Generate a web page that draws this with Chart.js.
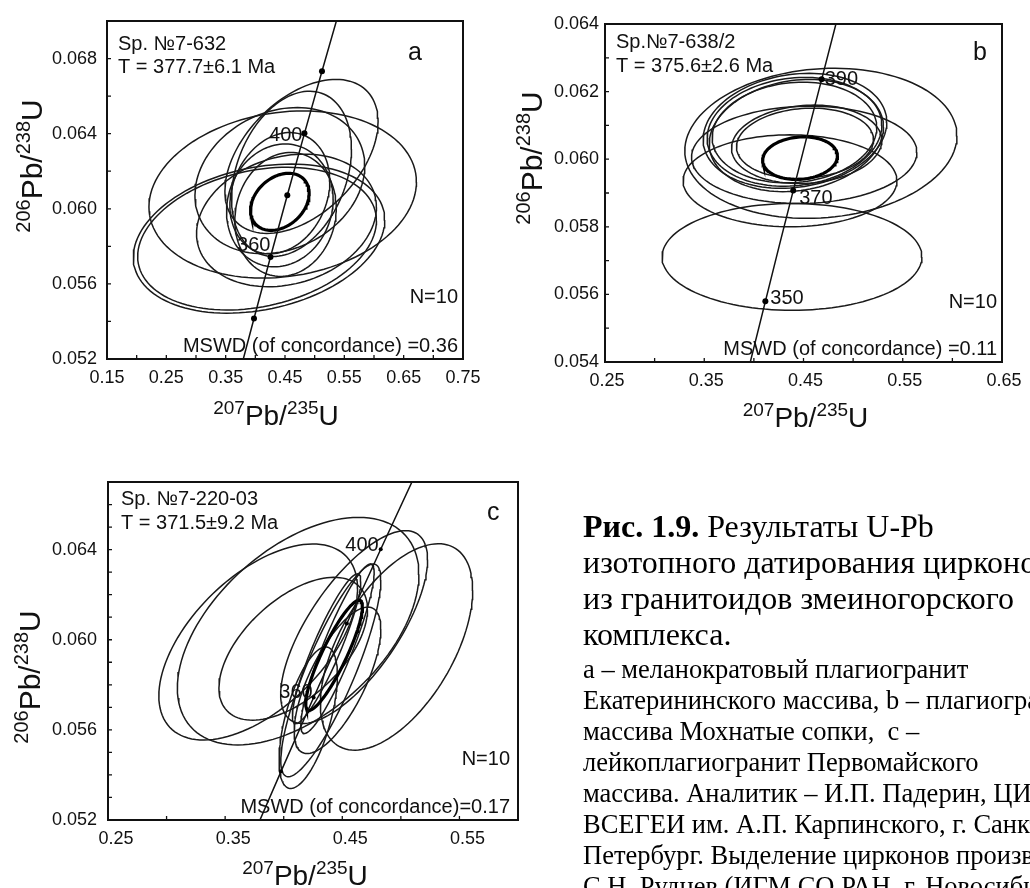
<!DOCTYPE html>
<html><head><meta charset="utf-8">
<script src="https://cdn.jsdelivr.net/npm/chart.js@4.4.1/dist/chart.umd.min.js"></script>
<style>
html,body{margin:0;padding:0;background:#fff;width:1030px;height:888px;overflow:hidden;position:relative;}
canvas{position:absolute;}
#cap{position:absolute;left:583px;top:0;width:447px;height:888px;overflow:hidden;font-family:"Liberation Serif","Times New Roman",serif;color:#000;white-space:nowrap;}
.big{position:absolute;left:0;font-size:32px;line-height:1;}
.sm{position:absolute;left:0;font-size:26.5px;line-height:1;}
</style></head><body>
<canvas id="ca" width="520" height="430" style="left:0;top:0"></canvas>
<canvas id="cb" width="530" height="430" style="left:500px;top:0"></canvas>
<canvas id="cc" width="540" height="448" style="left:0;top:440px"></canvas>
<div id="cap">
<div class="big" style="top:510px"><b>Рис. 1.9.</b> Результаты U-Pb</div>
<div class="big" style="top:546px">изотопного датирования цирконов</div>
<div class="big" style="top:582px">из гранитоидов змеиногорского</div>
<div class="big" style="top:618px">комплекса.</div>
<div class="sm" style="top:656px">а – меланократовый плагиогранит</div>
<div class="sm" style="top:687px">Екатерининского массива, b – плагиогранит</div>
<div class="sm" style="top:718px">массива Мохнатые сопки,&nbsp; с –</div>
<div class="sm" style="top:749px">лейкоплагиогранит Первомайского</div>
<div class="sm" style="top:780px">массива. Аналитик – И.П. Падерин, ЦИИ</div>
<div class="sm" style="top:811px">ВСЕГЕИ им. А.П. Карпинского, г. Санкт-</div>
<div class="sm" style="top:842px">Петербург. Выделение цирконов произвел</div>
<div class="sm" style="top:873px">С.Н. Руднев (ИГМ СО РАН, г. Новосибирск).</div>
</div>
<script>
// ================= DATA =================
const DECAY_238 = 1.55125e-10;   // 1/yr
const DECAY_235 = 9.8485e-10;    // 1/yr
const CONCORDIA_AGES = [300, 320, 340, 360, 380, 400, 420, 440, 460]; // Ma

const X_TITLE = [['207', true], ['Pb/', false], ['235', true], ['U', false]];
const Y_TITLE = [['206', true], ['Pb/', false], ['238', true], ['U', false]];

// ---- Panel a ----
const A_X_LABELS = [0.15, 0.25, 0.35, 0.45, 0.55, 0.65, 0.75];
const A_Y_LABELS = [0.052, 0.056, 0.060, 0.064, 0.068];
const A_CX  = [0.4062, 0.4029, 0.4461, 0.4778, 0.4610, 0.4413, 0.4413, 0.4509, 0.4525, 0.4413];
const A_CY  = [0.05841, 0.05841, 0.06076, 0.06279, 0.06186, 0.06150, 0.06018, 0.05970, 0.05938, 0.06083];
const A_SX  = [0.2119, 0.2012, 0.2254, 0.1291, 0.1010, 0.1431, 0.0898, 0.0855, 0.1516, 0.0842];
const A_SY  = [0.00397, 0.00380, 0.00445, 0.00410, 0.00440, 0.00389, 0.00327, 0.00330, 0.00353, 0.00323];
const A_RHO = [0.25, 0.25, 0.15, 0.45, 0.30, 0.20, 0.10, 0.10, 0.20, 0.20];
const A_MEAN = [0.4413, 0.06037, 0.0494, 0.00152, 0.30];
const A_AGES = [340, 360, 380, 400, 420];
const A_AGE_LABELS = [360, 400];
const A_TEXT = ['Sp. №7-632', 'T = 377.7±6.1 Ma', 'a', 'N=10', 'MSWD (of concordance) =0.36'];

// ---- Panel b ----
const B_X_LABELS = [0.25, 0.35, 0.45, 0.55, 0.65];
const B_Y_LABELS = [0.054, 0.056, 0.058, 0.060, 0.062, 0.064];
const B_CX  = [0.4414, 0.4409, 0.4409, 0.4428, 0.4532, 0.4515, 0.4507, 0.4364, 0.4384, 0.4675];
const B_CY  = [0.06084, 0.06081, 0.06079, 0.06070, 0.06044, 0.06047, 0.06013, 0.05936, 0.05711, 0.06047];
const B_SX  = [0.0925, 0.0880, 0.0829, 0.0878, 0.0757, 0.0690, 0.1135, 0.1077, 0.1309, 0.1371];
const B_SY  = [0.00170, 0.00161, 0.00149, 0.00166, 0.00116, 0.00104, 0.00144, 0.00136, 0.00158, 0.00222];
const B_RHO = [0.15, 0.12, 0.10, 0.15, 0.10, 0.10, 0.05, 0.00, 0.00, 0.10];
const B_MEAN = [0.4465, 0.06003, 0.0377, 0.00063, 0.10];
const B_AGES = [350, 370, 390];
const B_AGE_LABELS = [350, 370, 390];
const B_TEXT = ['Sp.№7-638/2', 'T = 375.6±2.6 Ma', 'b', 'N=10', 'MSWD (of concordance) =0.11'];

// ---- Panel c ----
const C_X_LABELS = [0.25, 0.35, 0.45, 0.55];
const C_Y_LABELS = [0.052, 0.056, 0.060, 0.064];
const C_CX  = [0.3782, 0.4123, 0.4963, 0.4601, 0.4402, 0.4459, 0.4459, 0.4366, 0.4209, 0.4081];
const C_CY  = [0.05990, 0.06038, 0.05968, 0.06056, 0.05864, 0.05820, 0.05960, 0.05960, 0.05654, 0.05960];
const C_SX  = [0.0848, 0.1031, 0.0650, 0.0627, 0.0427, 0.0370, 0.0313, 0.0292, 0.0249, 0.0634];
const C_SY  = [0.00435, 0.00505, 0.00458, 0.00428, 0.00472, 0.00325, 0.00376, 0.00332, 0.00314, 0.00317];
const C_RHO = [0.55, 0.50, 0.55, 0.70, 0.85, 0.70, 0.90, 0.90, 0.60, 0.55];
const C_MEAN = [0.4430, 0.05931, 0.0242, 0.00244, 0.88];
const C_AGES = [340, 360, 380, 400];
const C_AGE_LABELS = [360, 400];
const C_TEXT = ['Sp. №7-220-03', 'T = 371.5±9.2 Ma', 'c', 'N=10', 'MSWD (of concordance)=0.17'];

// ================= HELPERS =================
const SANS = '"Liberation Sans", Arial, Helvetica, sans-serif';
Chart.defaults.font.family = SANS;
Chart.defaults.color = '#111';

function concordia(age) {
  return { x: Math.exp(DECAY_235 * age * 1e6) - 1, y: Math.exp(DECAY_238 * age * 1e6) - 1 };
}
function ellipse(cx, cy, sx, sy, rho) {
  const k = Math.sqrt(1 - rho * rho), pts = [];
  for (let i = 0; i <= 120; i++) {
    const t = i / 120 * 2 * Math.PI;
    pts.push({ x: cx + sx * Math.cos(t), y: cy + sy * (rho * Math.cos(t) + k * Math.sin(t)) });
  }
  return pts;
}
function inList(v, list) { return list.some(l => Math.abs(l - v) < 1e-7); }

function drawSup(ctx, parts, cx, baseY, bigPx, smallPx, raise) {
  const big = bigPx + 'px ' + SANS, small = smallPx + 'px ' + SANS;
  let total = 0;
  parts.forEach(([s, sup]) => { ctx.font = sup ? small : big; total += ctx.measureText(s).width; });
  let x = cx - total / 2;
  ctx.textAlign = 'left'; ctx.textBaseline = 'alphabetic';
  parts.forEach(([s, sup]) => {
    ctx.font = sup ? small : big;
    ctx.fillText(s, x, sup ? baseY - raise : baseY);
    x += ctx.measureText(s).width;
  });
}

function makePanel(id, p) {
  const datasets = [];
  datasets.push({ data: p.ages.map(concordia), showLine: false, pointRadius: p.dot, pointBackgroundColor: '#000', pointBorderWidth: 0 });
  datasets.push({ data: CONCORDIA_AGES.map(concordia), showLine: true, pointRadius: 0, borderColor: '#111', borderWidth: 1.5, tension: 0 });
  datasets.push({ data: ellipse(...p.mean), showLine: true, pointRadius: 0, borderColor: '#000', borderWidth: 3.2, tension: 0 });
  p.cx.forEach((c, i) => datasets.push({ data: ellipse(c, p.cy[i], p.sx[i], p.sy[i], p.rho[i]), showLine: true, pointRadius: 0, borderColor: '#1a1a1a', borderWidth: 1.5, tension: 0 }));

  const deco = {
    id: 'deco',
    afterDatasetsDraw(chart) {
      const { ctx, chartArea: a, scales: { x, y } } = chart;
      ctx.save();
      ctx.strokeStyle = '#111'; ctx.lineWidth = 2;
      ctx.strokeRect(a.left, a.top, a.right - a.left, a.bottom - a.top);
      ctx.lineWidth = 1.3; ctx.beginPath();
      x.ticks.forEach(t => { const px = x.getPixelForValue(t.value); if (px <= a.left + 1 || px >= a.right - 1) return; ctx.moveTo(px, a.bottom); ctx.lineTo(px, a.bottom - 4); });
      y.ticks.forEach(t => { const py = y.getPixelForValue(t.value); if (py <= a.top + 1 || py >= a.bottom - 1) return; ctx.moveTo(a.left, py); ctx.lineTo(a.left + 4, py); });
      ctx.stroke();
      ctx.fillStyle = '#111';
      ctx.font = '20px ' + SANS; ctx.textBaseline = 'middle';
      p.ageLabels.forEach((age, i) => {
        const c = concordia(age), pl = p.agePlace[i];
        ctx.textAlign = pl[0];
        ctx.fillText(String(age), x.getPixelForValue(c.x) + pl[1], y.getPixelForValue(c.y) + pl[2]);
      });
      ctx.textBaseline = 'alphabetic';
      const T = p.text, P = p.textPos;
      ctx.font = '20px ' + SANS; ctx.textAlign = 'left';
      ctx.fillText(T[0], P.l, P.b1); ctx.fillText(T[1], P.l, P.b2);
      ctx.font = '25px ' + SANS; ctx.fillText(T[2], P.lx, P.lb);
      ctx.font = '20px ' + SANS; ctx.textAlign = 'right';
      ctx.fillText(T[3], P.r, P.nb); ctx.fillText(T[4], P.r, P.mb);
      drawSup(ctx, X_TITLE, (a.left + a.right) / 2 + p.xTitleDx, a.bottom + p.xTitleDy, 28, 19, 11);
      ctx.translate(a.left - p.yTitleDx, (a.top + a.bottom) / 2 + p.yTitleDy);
      ctx.rotate(-Math.PI / 2);
      drawSup(ctx, Y_TITLE, 0, 0, 30, 20, 12);
      ctx.restore();
    }
  };

  new Chart(document.getElementById(id), {
    type: 'scatter',
    data: { datasets },
    plugins: [deco],
    options: {
      responsive: false, animation: false, events: [],
      layout: { padding: p.pad },
      plugins: { legend: { display: false }, tooltip: { enabled: false } },
      scales: {
        x: {
          type: 'linear', min: p.xr[0], max: p.xr[1],
          grid: { display: false, drawTicks: false }, border: { display: false },
          ticks: { stepSize: 0.05, maxTicksLimit: 100, autoSkip: false, maxRotation: 0, padding: 8, labelOffset: p.xLabelOffset, font: { size: 18 }, color: '#111',
            callback: v => inList(v, p.xLabels) ? v.toFixed(2) : '' },
          afterFit: s => { s.height = 40; }
        },
        y: {
          type: 'linear', min: p.yr[0], max: p.yr[1],
          grid: { display: false, drawTicks: false }, border: { display: false },
          ticks: { stepSize: p.yStep, maxTicksLimit: 100, autoSkip: false, padding: p.yPad, font: { size: 18 }, color: '#111',
            callback: v => inList(v, p.yLabels) ? v.toFixed(3) : '' },
          afterFit: s => { s.width = 80; }
        }
      }
    }
  });
}

makePanel('ca', {
  xr: [0.15, 0.75], yr: [0.052, 0.070], yStep: 0.002, xLabels: A_X_LABELS, yLabels: A_Y_LABELS,
  pad: { left: 27, top: 21, right: 57, bottom: 31 }, yPad: 10, xLabelOffset: 0,
  cx: A_CX, cy: A_CY, sx: A_SX, sy: A_SY, rho: A_RHO, mean: A_MEAN, ages: A_AGES, dot: 3,
  ageLabels: A_AGE_LABELS, agePlace: [['right', 0, -11], ['right', -2, 2]],
  text: A_TEXT, textPos: { l: 118, b1: 50, b2: 73, lx: 408, lb: 60, r: 458, nb: 303, mb: 352 },
  xTitleDx: -9, xTitleDy: 66, yTitleDx: 65, yTitleDy: -24
});
makePanel('cb', {
  xr: [0.25, 0.65], yr: [0.054, 0.064], yStep: 0.001, xLabels: B_X_LABELS, yLabels: B_Y_LABELS,
  pad: { left: 25, top: 24, right: 28, bottom: 28 }, yPad: 6, xLabelOffset: 2,
  cx: B_CX, cy: B_CY, sx: B_SX, sy: B_SY, rho: B_RHO, mean: B_MEAN, ages: B_AGES, dot: 3,
  ageLabels: B_AGE_LABELS, agePlace: [['left', 5, -3], ['left', 6, 8], ['left', 3, 0]],
  text: B_TEXT, textPos: { l: 116, b1: 48, b2: 72, lx: 473, lb: 60, r: 497, nb: 308, mb: 355 },
  xTitleDx: 2, xTitleDy: 65, yTitleDx: 63, yTitleDy: -35
});
makePanel('cc', {
  xr: [0.25, 0.60], yr: [0.052, 0.067], yStep: 0.001, xLabels: C_X_LABELS, yLabels: C_Y_LABELS,
  pad: { left: 28, top: 42, right: 22, bottom: 28 }, yPad: 11, xLabelOffset: 8,
  cx: C_CX, cy: C_CY, sx: C_SX, sy: C_SY, rho: C_RHO, mean: C_MEAN, ages: C_AGES, dot: 2,
  ageLabels: C_AGE_LABELS, agePlace: [['right', -1, -5], ['right', -2, -4]],
  text: C_TEXT, textPos: { l: 121, b1: 65, b2: 89, lx: 487, lb: 80, r: 510, nb: 325, mb: 373 },
  xTitleDx: -8, xTitleDy: 65, yTitleDx: 68, yTitleDy: 26
});
</script>
</body></html>
